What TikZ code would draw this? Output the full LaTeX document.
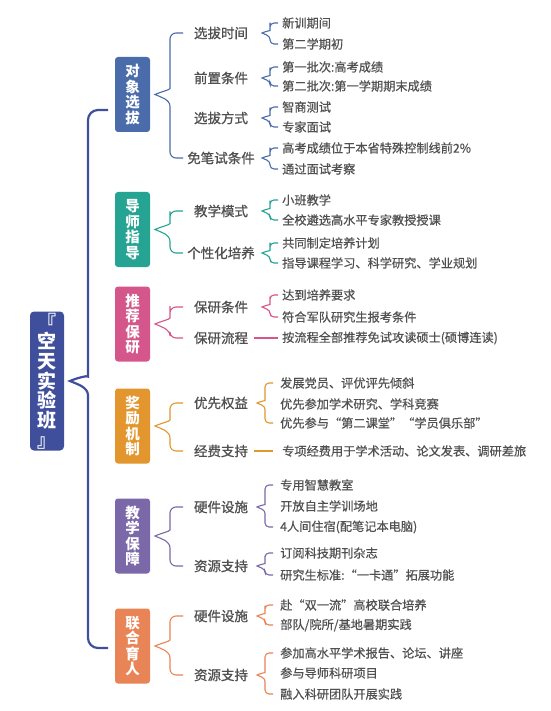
\documentclass[tikz,border=0pt]{standalone}
\usepackage{fontspec}
\setmainfont{Noto Sans CJK SC}
\newfontface\subfont{Noto Sans CJK SC}[FakeBold=0.9]
\newfontface\leaffont{Noto Sans CJK SC}[FakeBold=0.5]
\usetikzlibrary{calc}

\definecolor{rootblue}{HTML}{3F4F9C}
\definecolor{dxblue}{HTML}{4A6CAB}
\definecolor{dsteal}{HTML}{25A393}
\definecolor{tjpink}{HTML}{D4568A}
\definecolor{jlorange}{HTML}{E3962E}
\definecolor{bzpurple}{HTML}{7B68A8}
\definecolor{lhcoral}{HTML}{E98457}
\definecolor{txtgray}{HTML}{505050}

\tikzset{
  rootbox/.style={fill=rootblue, rounded corners=4pt, minimum width=34pt, minimum height=139pt,
    text=white, font=\fontsize{19}{19.7}\selectfont\bfseries, align=center, inner sep=1pt},
  catbox/.style={fill=#1, rounded corners=3pt, minimum width=35pt, minimum height=75pt,
    text=white, font=\fontsize{14.5}{15.6}\selectfont\bfseries, align=center, inner sep=1pt},
  sublabel/.style={text=txtgray, font=\subfont\fontsize{13.5}{15}\selectfont, inner sep=2pt},
  leaf/.style={text=txtgray, font=\leaffont\fontsize{12.2}{14}\selectfont, anchor=west, inner sep=1pt},
  brline/.style={draw=#1, line width=1.1pt},
}

% brace from a parent to its first and last child
% #1 style, #2 parent, #3 first child, #4 last child, #5 tip x, #6 stem x, #7 end x, #8 corner radius
\newcommand{\brc}[8]{%
  \draw[#1] let \p0=(#2.center), \p1=(#3), \p2=(#4), \n1={0.8*(#6-#5)} in
    (#7pt,\y1) [rounded corners=#8pt] -- (#6pt,\y1) -- (#6pt,\y0+\n1*1pt) [sharp corners]
    .. controls (#6pt,\y0+0.4*\n1*1pt) and ({#5pt+0.35*(#6pt-#5pt)},\y0+0.2*\n1*1pt) .. (#5pt,\y0)
    .. controls ({#5pt+0.35*(#6pt-#5pt)},\y0-0.2*\n1*1pt) and (#6pt,\y0-0.4*\n1*1pt) .. (#6pt,\y0-\n1*1pt)
    [rounded corners=#8pt] -- (#6pt,\y2) -- (#7pt,\y2);
}

\begin{document}
\begin{tikzpicture}[x=1pt,y=-1pt]
  \path[fill=white] (0,0) rectangle (550,711);
  \useasboundingbox (0,0) rectangle (550,711);

  % root and main brace
  \node[rootbox] (kt) at (47,381) {『\\空\\天\\实\\验\\班\\』};

  % categories
  \node[catbox=dxblue] (dx) at (132.5,94.5) {对\\象\\选\\拔};
  \node[catbox=dsteal] (ds) at (132.5,229.5) {导\\师\\指\\导};
  \node[catbox=tjpink] (tj) at (132.5,324) {推\\荐\\保\\研};
  \node[catbox=jlorange] (jl) at (132.5,426) {奖\\励\\机\\制};
  \node[catbox=bzpurple] (bz) at (132.5,536) {教\\学\\保\\障};
  \node[catbox=lhcoral] (lh) at (132.5,646) {联\\合\\育\\人};

  \brc{draw=rootblue, line width=2.2pt}{kt}{$(dx.west)+(0,15.5)$}{$(lh.west)+(0,2)$}{70}{88}{108}{10}

  % 对象选拔
  \node[sublabel] (dx1) at (221,33) {选拔时间};
  \node[sublabel] (dx2) at (221,78) {前置条件};
  \node[sublabel] (dx3) at (221,118) {选拔方式};
  \node[sublabel] (dx4) at (221,158) {免笔试条件};
  \node[leaf] (dx1a) at (281,23) {新训期间};
  \node[leaf] (dx1b) at (281,44) {第二学期初};
  \node[leaf] (dx2a) at (281,67) {第一批次:高考成绩};
  \node[leaf] (dx2b) at (281,86) {第二批次:第一学期期末成绩};
  \node[leaf] (dx3a) at (281,107) {智商测试};
  \node[leaf] (dx3b) at (281,127) {专家面试};
  \node[leaf] (dx4a) at (281,148) {高考成绩位于本省特殊控制线前2\%};
  \node[leaf] (dx4b) at (281,169) {通过面试考察};
  \brc{brline=dxblue}{dx}{dx1.west}{dx4.west}{155}{170}{183}{6}
  \brc{brline=dxblue}{dx1}{dx1a.west}{dx1b.west}{262}{270}{278}{4}
  \brc{brline=dxblue}{dx2}{dx2a.west}{dx2b.west}{262}{270}{278}{4}
  \brc{brline=dxblue}{dx3}{dx3a.west}{dx3b.west}{262}{270}{278}{4}
  \brc{brline=dxblue}{dx4}{dx4a.west}{dx4b.west}{262}{270}{278}{4}

  % 导师指导
  \node[sublabel] (ds1) at (221,211) {教学模式};
  \node[sublabel] (ds2) at (221,253) {个性化培养};
  \node[leaf] (ds1a) at (281,200) {小班教学};
  \node[leaf] (ds1b) at (281,220) {全校遴选高水平专家教授授课};
  \node[leaf] (ds2a) at (281,243) {共同制定培养计划};
  \node[leaf] (ds2b) at (281,263) {指导课程学习、科学研究、学业规划};
  \brc{brline=dsteal}{ds}{ds1.west}{ds2.west}{155}{170}{183}{6}
  \brc{brline=dsteal}{ds1}{ds1a.west}{ds1b.west}{262}{270}{278}{4}
  \brc{brline=dsteal}{ds2}{ds2a.west}{ds2b.west}{262}{270}{278}{4}

  % 推荐保研
  \node[sublabel] (tj1) at (221,307) {保研条件};
  \node[sublabel] (tj2) at (221,338) {保研流程};
  \node[leaf] (tj1a) at (281,295) {达到培养要求};
  \node[leaf] (tj1b) at (281,317) {符合军队研究生报考条件};
  \node[leaf] (tj2a) at (281,338) {按流程全部推荐免试攻读硕士(硕博连读)};
  \brc{brline=tjpink}{tj}{tj1.west}{tj2.west}{155}{170}{183}{6}
  \brc{brline=tjpink}{tj1}{tj1a.west}{tj1b.west}{262}{270}{278}{4}
  \draw[brline=tjpink, shorten <=4pt, shorten >=3pt] (tj2.east) -- (tj2a.west);

  % 奖励机制
  \node[sublabel] (jl1) at (221,403) {优先权益};
  \node[sublabel] (jl2) at (221,451) {经费支持};
  \node[leaf] (jl1a) at (279,383) {发展党员、评优评先倾斜};
  \node[leaf] (jl1b) at (279,404) {优先参加学术研究、学科竞赛};
  \node[leaf] (jl1c) at (279,423) {优先参与“第二课堂”“学员俱乐部”};
  \node[leaf] (jl2a) at (281,451) {专项经费用于学术活动、论文发表、调研差旅};
  \brc{brline=jlorange}{jl}{jl1.west}{jl2.west}{155}{170}{183}{6}
  \brc{brline=jlorange}{jl1}{jl1a.west}{jl1c.west}{257}{265}{273}{4}
  \draw[brline=jlorange, shorten <=4pt, shorten >=8pt] (jl2.east) -- (jl2a.west);

  % 教学保障
  \node[sublabel] (bz1) at (221,507) {硬件设施};
  \node[sublabel] (bz2) at (221,566) {资源支持};
  \node[leaf] (bz1a) at (279,485) {专用智慧教室};
  \node[leaf] (bz1b) at (279,506) {开放自主学训场地};
  \node[leaf] (bz1c) at (279,527) {4人间住宿(配笔记本电脑)};
  \node[leaf] (bz2a) at (279,553) {订阅科技期刊杂志};
  \node[leaf] (bz2b) at (279,575) {研究生标准:“一卡通”拓展功能};
  \brc{brline=bzpurple}{bz}{bz1.west}{bz2.west}{155}{170}{183}{6}
  \brc{brline=bzpurple}{bz1}{bz1a.west}{bz1c.west}{257}{265}{273}{4}
  \brc{brline=bzpurple}{bz2}{bz2a.west}{bz2b.west}{257}{265}{273}{4}

  % 联合育人
  \node[sublabel] (lh1) at (221,616) {硬件设施};
  \node[sublabel] (lh2) at (221,675) {资源支持};
  \node[leaf] (lh1a) at (279,605) {赴“双一流”高校联合培养};
  \node[leaf] (lh1b) at (279,625) {部队/院所/基地暑期实践};
  \node[leaf] (lh2a) at (279,653) {参加高水平学术报告、论坛、讲座};
  \node[leaf] (lh2b) at (279,673) {参与导师科研项目};
  \node[leaf] (lh2c) at (279,694) {融入科研团队开展实践};
  \brc{brline=lhcoral}{lh}{lh1.west}{lh2.west}{155}{170}{183}{6}
  \brc{brline=lhcoral}{lh1}{lh1a.west}{lh1b.west}{257}{265}{273}{4}
  \brc{brline=lhcoral}{lh2}{lh2a.west}{lh2c.west}{257}{265}{273}{4}
\end{tikzpicture}
\end{document}
